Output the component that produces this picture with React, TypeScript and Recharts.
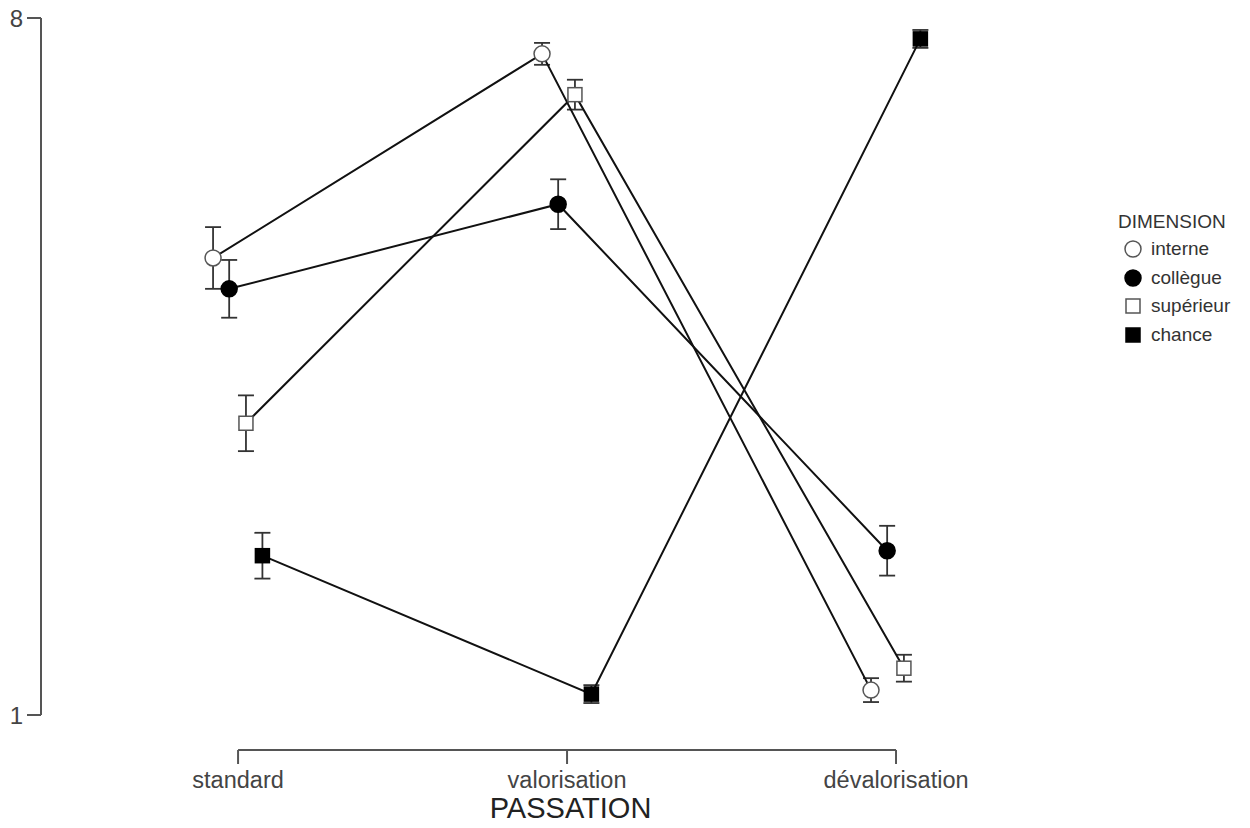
import React from 'react';
import { ComposedChart, Scatter, XAxis, YAxis, ErrorBar, ReferenceLine } from 'recharts';

// categories on the x axis (positions 0, 1, 2)
const passations = ['standard', 'valorisation', 'dévalorisation'];

// mean score per passation, and the half-length of the error bar
const interne = [5.59, 7.64, 1.25];
const interneErr = [0.31, 0.11, 0.12];
const collegue = [5.28, 6.13, 2.65];
const collegueErr = [0.29, 0.25, 0.25];
const superieur = [3.93, 7.23, 1.47];
const superieurErr = [0.28, 0.15, 0.135];
const chance = [2.6, 1.21, 7.79];
const chanceErr = [0.23, 0.09, 0.09];

const yTicks = [1, 8];

const FONT = '"Liberation Sans", Arial, sans-serif';
const AXIS = '#555';
const TEXT = '#444';

// horizontal dodge so the four dimensions don't overlap
const DODGE = [-0.076, -0.027, 0.024, 0.074];
const X_DOMAIN = [-0.599, 2.62];
const Y_DOMAIN = [0.6485, 8];

const build = (values: number[], errs: number[], i: number) =>
    values.map((v, k) => ({ x: k + DODGE[i], y: v, err: errs[k] }));

const series = [
    { name: 'interne', data: build(interne, interneErr, 0), shape: 'circle', filled: false },
    { name: 'collègue', data: build(collegue, collegueErr, 1), shape: 'circle', filled: true },
    { name: 'supérieur', data: build(superieur, superieurErr, 2), shape: 'square', filled: false },
    { name: 'chance', data: build(chance, chanceErr, 3), shape: 'square', filled: true },
];

const Marker = ({ cx, cy, shape, filled }: any) => {
    const fill = filled ? '#000' : '#fff';
    const stroke = filled ? '#000' : '#555';
    if (shape === 'circle') {
        return <circle cx={cx} cy={cy} r={8} fill={fill} stroke={stroke} strokeWidth={1.5} />;
    }
    return <rect x={cx - 7} y={cy - 7} width={14} height={14} fill={fill} stroke={stroke} strokeWidth={1.5} />;
};

const LegendBox = () => (
    <div style={{ position: 'absolute', left: 1118, top: 209, fontFamily: FONT, color: '#333', fontSize: 19 }}>
        <div style={{ height: 26, lineHeight: '26px' }}>DIMENSION</div>
        {series.map((s) => (
            <div key={s.name} style={{ display: 'flex', alignItems: 'center', height: 28.5 }}>
                <svg width={30} height={20}>
                    <Marker cx={15} cy={10} shape={s.shape} filled={s.filled} />
                </svg>
                <span style={{ marginLeft: 3 }}>{s.name}</span>
            </div>
        ))}
    </div>
);

const App: React.FC = () => {
    return (
        <div style={{ position: 'absolute', left: 0, top: 0, width: 1250, height: 828, background: '#fff' }}>
            <ComposedChart width={1250} height={828} margin={{ top: 18, right: 150, bottom: 0, left: 0 }}>
                <XAxis
                    type="number"
                    dataKey="x"
                    domain={X_DOMAIN}
                    ticks={[0, 1, 2]}
                    tickFormatter={(v: number) => passations[v]}
                    axisLine={false}
                    tickLine={{ stroke: AXIS, strokeWidth: 2 }}
                    tickSize={14}
                    tickMargin={7}
                    height={78}
                    tick={{ fill: TEXT, fontSize: 23.5, fontFamily: FONT }}
                    allowDataOverflow
                    label={{ value: 'PASSATION', position: 'insideBottom', offset: 10, fill: '#222', fontSize: 29, fontFamily: FONT }}
                />
                <YAxis
                    type="number"
                    dataKey="y"
                    domain={Y_DOMAIN}
                    ticks={yTicks}
                    axisLine={false}
                    tickLine={{ stroke: AXIS, strokeWidth: 2 }}
                    tickSize={14}
                    tickMargin={4}
                    width={41}
                    tick={{ fill: TEXT, fontSize: 24, fontFamily: FONT }}
                    allowDataOverflow
                />
                <ReferenceLine
                    segment={[{ x: X_DOMAIN[0], y: 1 }, { x: X_DOMAIN[0], y: 8 }]}
                    stroke={AXIS}
                    strokeWidth={2}
                    ifOverflow="visible"
                />
                <ReferenceLine
                    segment={[{ x: 0, y: Y_DOMAIN[0] }, { x: 2, y: Y_DOMAIN[0] }]}
                    stroke={AXIS}
                    strokeWidth={2}
                    ifOverflow="visible"
                />
                {series.map((s) => (
                    <Scatter
                        key={s.name}
                        name={s.name}
                        data={s.data}
                        line={{ stroke: '#111', strokeWidth: 2 }}
                        lineType="joint"
                        shape={(p: any) => <Marker cx={p.cx} cy={p.cy} shape={s.shape} filled={s.filled} />}
                        isAnimationActive={false}
                    >
                        <ErrorBar dataKey="err" direction="y" width={8} stroke="#333" strokeWidth={1.8} />
                    </Scatter>
                ))}
            </ComposedChart>
            <LegendBox />
        </div>
    );
};

export default App;
